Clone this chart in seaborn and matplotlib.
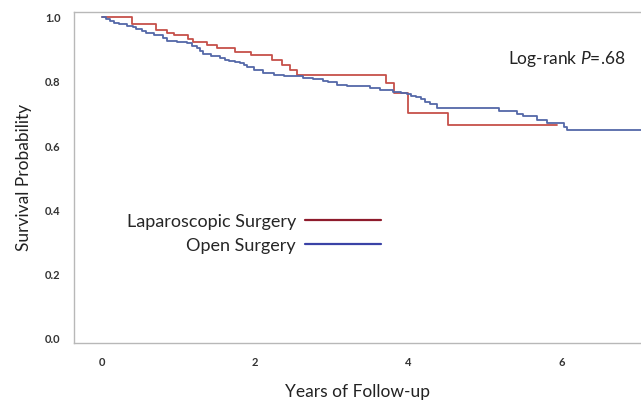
import numpy as np
import pandas as pd
import matplotlib
matplotlib.use("Agg")
import matplotlib.pyplot as plt
from matplotlib.lines import Line2D
import seaborn as sns

# Kaplan-Meier step points
lap_time = [0, 0.39, 0.71, 0.85, 0.94, 1.12, 1.19, 1.37, 1.50, 1.74, 1.94, 2.22,
            2.35, 2.46, 2.55, 3.71, 3.82, 4.00, 4.52, 5.94]
lap_surv = [1.0, 0.980, 0.962, 0.952, 0.945, 0.933, 0.924, 0.915, 0.905, 0.894,
            0.883, 0.868, 0.853, 0.838, 0.822, 0.796, 0.765, 0.704, 0.665, 0.665]

open_time = [0, 0.05, 0.10, 0.16, 0.22, 0.32, 0.40, 0.45, 0.52, 0.58, 0.68, 0.76,
             0.80, 0.85, 0.98, 1.11, 1.18, 1.24, 1.28, 1.32, 1.42, 1.54, 1.60,
             1.66, 1.74, 1.80, 1.86, 1.90, 1.98, 2.10, 2.24, 2.38, 2.50, 2.62,
             2.76, 2.88, 2.95, 3.07, 3.20, 3.37, 3.50, 3.63, 3.80, 3.90, 3.98,
             4.04, 4.10, 4.16, 4.22, 4.29, 4.37, 5.18, 5.42, 5.50, 5.68, 5.81,
             6.03, 6.07, 7.10]
open_surv = [1.0, 0.994, 0.988, 0.984, 0.979, 0.975, 0.970, 0.965, 0.957, 0.951,
             0.947, 0.944, 0.936, 0.928, 0.924, 0.920, 0.912, 0.904, 0.896, 0.887,
             0.879, 0.874, 0.869, 0.866, 0.863, 0.858, 0.852, 0.846, 0.836, 0.828,
             0.822, 0.819, 0.817, 0.813, 0.808, 0.803, 0.798, 0.790, 0.788, 0.786,
             0.780, 0.774, 0.768, 0.765, 0.761, 0.757, 0.752, 0.746, 0.738, 0.730,
             0.720, 0.709, 0.700, 0.694, 0.680, 0.673, 0.659, 0.649, 0.649]

groups = ["Laparoscopic Surgery", "Open Surgery"]
curve_colors = ["#c6504a", "#5468a8"]
legend_colors = ["#8e1b2c", "#3a42a6"]

df = pd.concat([
    pd.DataFrame({"t": lap_time, "s": lap_surv, "g": groups[0]}),
    pd.DataFrame({"t": open_time, "s": open_surv, "g": groups[1]}),
])

sns.set_style("white")
plt.rcParams["font.family"] = ["Lato", "DejaVu Sans"]
plt.rcParams["mathtext.fontset"] = "custom"
plt.rcParams["mathtext.it"] = "Lato:italic"

fig = plt.figure(figsize=(6.41, 4.01), dpi=100)
ax = fig.add_axes([0.115, 0.145, 0.885, 0.825])

sns.lineplot(data=df, x="t", y="s", hue="g", palette=curve_colors,
             drawstyle="steps-post", linewidth=1.3, legend=False, ax=ax,
             estimator=None, sort=False)

ax.set_xlim(-0.37, 7.04)
ax.set_ylim(-0.012, 1.017)
ax.set_xticks([0, 2, 4, 6])
ax.set_yticks([0.0, 0.2, 0.4, 0.6, 0.8, 1.0])
ax.set_yticklabels(["0.0", "0.2", "0.4", "0.6", "0.8", "1.0"])

for side in ["left", "bottom", "top"]:
    ax.spines[side].set_color("#b8b8b8")
    ax.spines[side].set_linewidth(1.0)
ax.spines["right"].set_visible(False)
ax.tick_params(axis="both", direction="out", length=6, width=1, color="#b8b8b8",
               labelsize=8, labelcolor="#333333")
ax.tick_params(axis="x", pad=4)
for lab in ax.get_xticklabels() + ax.get_yticklabels():
    lab.set_fontweight("bold")

ax.set_xlabel("Years of Follow-up", fontsize=12.5, color="#222222", labelpad=12)
ax.set_ylabel("Survival Probability", fontsize=12.5, color="#222222", labelpad=9)

ax.text(5.3, 0.855, "Log-rank $P$=.68", fontsize=12.5, color="#222222")

handles = [Line2D([], [], color=c, lw=1.6) for c in legend_colors]
ax.legend(handles, groups, loc="upper left", bbox_to_anchor=(0.065, 0.44),
          markerfirst=False, frameon=False, fontsize=13, handlelength=4.2,
          handletextpad=0.5, labelspacing=0.45)

fig.savefig("out.png", dpi=100)
